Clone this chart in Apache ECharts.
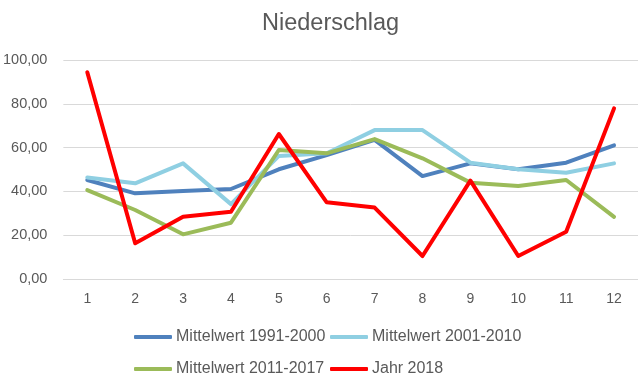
<!DOCTYPE html>
<html><head><meta charset="utf-8">
<script src="https://cdn.jsdelivr.net/npm/echarts@6/dist/echarts.min.js"></script>
<style>html,body{margin:0;padding:0;background:#fff}#c{width:638px;height:388px}</style>
</head><body><div id="c"></div>
<script>
const months = ['1','2','3','4','5','6','7','8','9','10','11','12'];
const seriesNames = ['Mittelwert 1991-2000','Mittelwert 2001-2010','Mittelwert 2011-2017','Jahr 2018'];
const mw1991 = [45.2, 39.1, 40.2, 41.1, 50.1, 56.6, 63.5, 47.0, 52.8, 50.1, 53.1, 61.0];
const mw2001 = [46.3, 43.7, 52.8, 34.2, 56.2, 57.4, 68.0, 68.0, 53.1, 50.1, 48.5, 52.8];
const mw2011 = [40.6, 31.5, 20.4, 25.7, 58.9, 57.4, 63.9, 55.1, 44.0, 42.5, 45.2, 28.4];
const jahr2018 = [94.4, 16.3, 28.4, 30.7, 66.2, 35.0, 32.6, 10.5, 44.9, 10.5, 21.6, 77.9];
const yTicks = [0, 20, 40, 60, 80, 100];

const colors = ['#4F81BD', '#8FCFE2', '#9BBB59', '#FF0000'];
const dataArr = [mw1991, mw2001, mw2011, jahr2018];
const txt = '#595959';
const font = 'Liberation Sans';

const chart = echarts.init(document.getElementById('c'), null, {renderer: 'canvas'});
const legendPos = [[134, 329], [330, 329], [134, 361], [330, 361]];
chart.setOption({
  animation: false,
  backgroundColor: '#fff',
  title: {
    text: 'Niederschlag', left: 257, top: 7,
    textStyle: {fontFamily: font, fontSize: 23.5, fontWeight: 'normal', color: txt}
  },
  legend: seriesNames.map((n, i) => ({
    data: [n], left: legendPos[i][0], top: legendPos[i][1],
    icon: 'roundRect', itemWidth: 38, itemHeight: 4, itemGap: 4,
    textStyle: {fontFamily: font, fontSize: 16, color: txt, padding: [0, 0, 0, -1]},
    padding: 0
  })),
  grid: {left: 63, top: 60, width: 577, bottom: 109, containLabel: false},
  xAxis: {
    type: 'category', data: months, boundaryGap: true,
    axisLine: {show: true, lineStyle: {color: '#D9D9D9', width: 1}},
    axisTick: {show: false},
    axisLabel: {fontFamily: font, fontSize: 14, color: txt, margin: 13}
  },
  yAxis: {
    type: 'value', min: yTicks[0], max: yTicks[yTicks.length - 1], interval: 20,
    axisLine: {show: false}, axisTick: {show: false},
    splitLine: {lineStyle: {color: '#D9D9D9', width: 1}},
    axisLabel: {fontFamily: font, fontSize: 14.5, color: txt, margin: 16,
      formatter: v => v.toFixed(2).replace('.', ',')}
  },
  series: seriesNames.map((n, i) => ({
    name: n, type: 'line', data: dataArr[i],
    showSymbol: false, symbol: 'none',
    lineStyle: {color: colors[i], width: 4, join: 'round', cap: 'round'},
    itemStyle: {color: colors[i]},
    z: 2 + i
  }))
});
</script></body></html>
